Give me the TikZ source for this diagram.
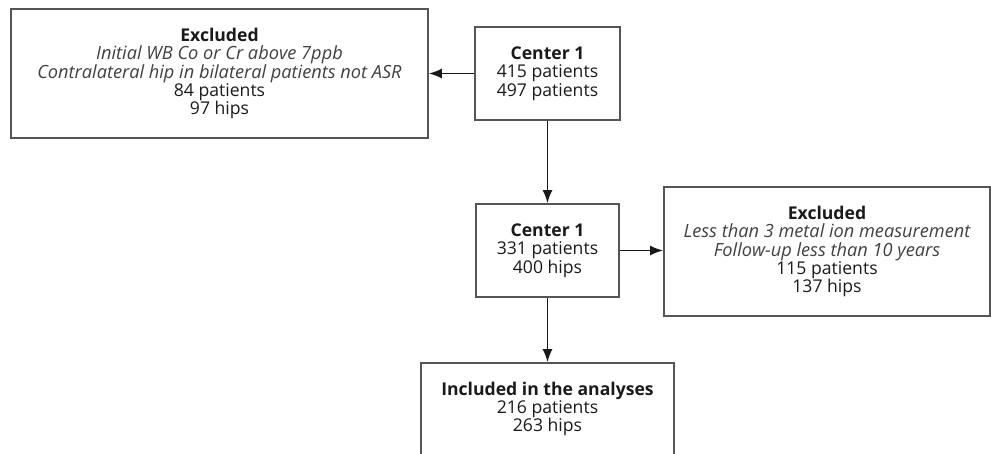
\documentclass[tikz,border=0pt]{standalone}
\usepackage{fontspec}
\setmainfont{Open Sans}
\usetikzlibrary{arrows.meta}
\definecolor{boxline}{HTML}{555555}
\definecolor{txt}{HTML}{1A1A1A}
\definecolor{note}{HTML}{404040}
\newcommand{\reason}[1]{{\fontsize{18.2}{18.3}\selectfont\color{note}\itshape #1}}

\begin{document}
\begin{tikzpicture}[x=1pt,y=-1pt]
	\tikzset{flowbox/.style={draw=boxline, line width=1.8pt, rectangle, align=center, text=txt,
			font=\fontsize{17.6}{18.3}\selectfont, inner sep=0pt},
		flowarrow/.style={line width=1.5pt, draw=black!90, -{Latex[length=13pt,width=10pt]}}}
	\useasboundingbox (0,0) rectangle (991,454);
	\clip (0,0) rectangle (991,454);

	\draw (219.5,73.5) node [flowbox, minimum width=417pt, minimum height=129pt] (EXCL1)
		{\textbf{Excluded}\\ \reason{Initial WB Co or Cr above 7ppb}\\
		\reason{Contralateral hip in bilateral patients not ASR}\\ 84 patients\\ 97 hips};
	\draw (547.5,73.5) node [flowbox, minimum width=145pt, minimum height=93pt] (CEN1)
		{\textbf{Center 1}\\ 415 patients\\ 497 patients};
	\draw (547.5,250.5) node [flowbox, minimum width=143pt, minimum height=93pt] (CEN2)
		{\textbf{Center 1}\\ 331 patients\\ 400 hips};
	\draw (827,251.5) node [flowbox, minimum width=326pt, minimum height=129pt] (EXCL2)
		{\textbf{Excluded}\\ \reason{Less than 3 metal ion measurement}\\
		\reason{Follow-up less than 10 years}\\ 115 patients\\ 137 hips};
	\draw (547.5,409) node [flowbox, minimum width=253pt, minimum height=92pt] (INCL)
		{\textbf{Included in the analyses}\\ 216 patients\\ 263 hips};

	\draw [flowarrow] (CEN1.west) -- (CEN1.west -| EXCL1.east);
	\draw [flowarrow] (CEN1.south) -- (CEN2.north);
	\draw [flowarrow] (CEN2.east) -- (CEN2.east -| EXCL2.west);
	\draw [flowarrow] (CEN2.south) -- (INCL.north);
\end{tikzpicture}
\end{document}
